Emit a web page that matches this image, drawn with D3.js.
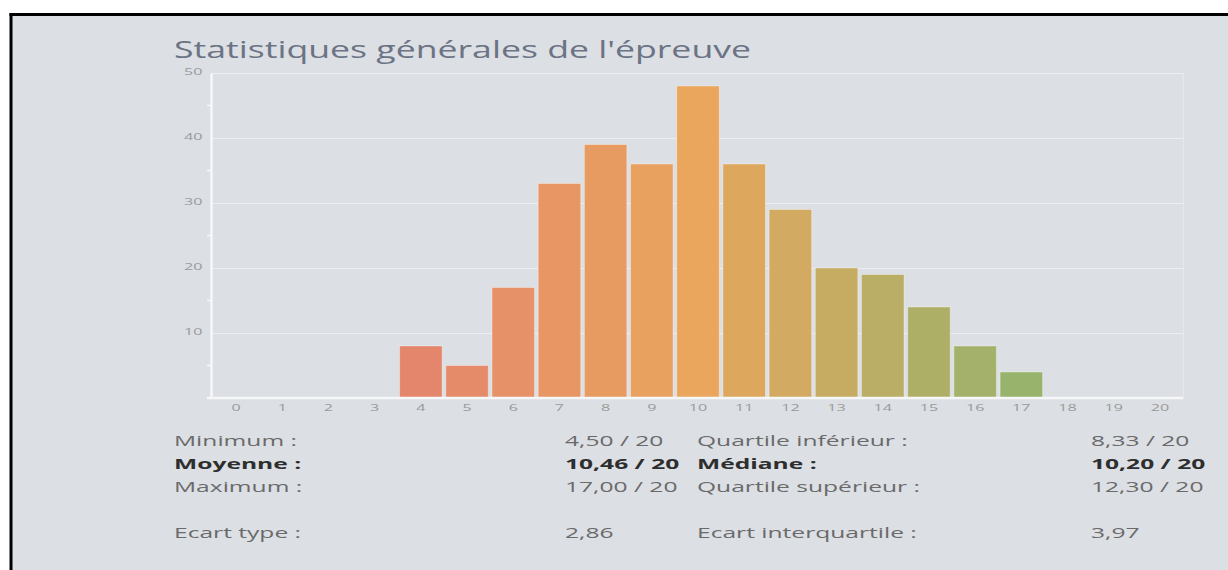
<!DOCTYPE html>
<html><head><meta charset="utf-8">
<script src="https://cdn.jsdelivr.net/npm/d3@7"></script>
<style>body{margin:0;background:#fff;}svg{display:block;}</style>
</head><body>
<svg id="c" width="1228" height="570"></svg>
<script>
const title = "Statistiques générales de l'épreuve";
const categories = ["0","1","2","3","4","5","6","7","8","9","10","11","12","13","14","15","16","17","18","19","20"];
const counts = [0,0,0,0,8,5,17,33,39,36,48,36,29,20,19,14,8,4,0,0,0];
const yTicks = [10,20,30,40,50];
const yMinorTicks = [5,15,25,35,45];
const statLabelsLeft = ["Minimum :","Moyenne :","Maximum :","","Ecart type :"];
const statValuesLeft = ["4,50 / 20","10,46 / 20","17,00 / 20","","2,86"];
const statLabelsRight = ["Quartile inférieur :","Médiane :","Quartile supérieur :","","Ecart interquartile :"];
const statValuesRight = ["8,33 / 20","10,20 / 20","12,30 / 20","","3,97"];
const boldRows = [1];

const svg = d3.select("#c");
const W = 1228, H = 570;
const SX_TITLE = 1.55, SX_TEXT = 1.64, SX_TICK = 1.7;
// frame
svg.append("rect").attr("x",11).attr("y",14).attr("width",W).attr("height",H).attr("fill","#dcdfe4");
svg.append("line").attr("x1",9.5).attr("x2",W).attr("y1",14.5).attr("y2",14.5).attr("stroke","#000").attr("stroke-width",3);
svg.append("line").attr("x1",11).attr("x2",11).attr("y1",13).attr("y2",H).attr("stroke","#000").attr("stroke-width",3);

svg.append("text").attr("transform",`translate(174,58) scale(${SX_TITLE},1)`)
  .attr("font-family","Open Sans").attr("font-size",23)
  .attr("fill","#6b7384").text(title);

const x = d3.scaleBand().domain(categories).range([213,1183]).paddingInner(0.08).paddingOuter(0.04);
const y = d3.scaleLinear().domain([0,50]).range([398,73]);
const color = d3.scaleLinear().domain([4,10,17]).range(["#e4866c","#e9a65c","#97b36c"]);

const g = svg.append("g");
// grid
g.selectAll("line.grid").data(yTicks).join("line").attr("class","grid")
  .attr("x1",211).attr("x2",1183).attr("y1",d=>y(d)+0.5).attr("y2",d=>y(d)+0.5)
  .attr("stroke","#eceef1").attr("stroke-width",1.2);
g.append("line").attr("x1",1183.5).attr("x2",1183.5).attr("y1",y(50)).attr("y2",y(0))
  .attr("stroke","#e6e8eb").attr("stroke-width",1.2);

// bars
g.selectAll("rect.bar").data(counts.map((v,i)=>({c:categories[i],v,i}))).join("rect").attr("class","bar")
  .attr("x",d=>x(d.c)).attr("width",x.bandwidth())
  .attr("y",d=>y(d.v)).attr("height",d=>y(0)-y(d.v))
  .attr("fill",d=>color(d.i))
  .attr("stroke","rgba(255,255,255,0.35)").attr("stroke-width",1)
  .style("display",d=>d.v>0?null:"none");

// y axis
const ya = d3.axisLeft(y).tickValues(yTicks).tickSize(0).tickPadding(5);
const yg = g.append("g").attr("transform","translate(211,0)").call(ya);
yg.select(".domain").attr("stroke","#f6f7f8").attr("stroke-width",2.5);
yg.selectAll("text").attr("font-family","Open Sans").attr("font-size",9.5).attr("fill","#9a9a9a")
  .attr("dy","0.2em").attr("transform",`scale(${SX_TICK},1)`);
yg.selectAll("line.minor").data(yMinorTicks).join("line").attr("class","minor")
  .attr("x1",-4).attr("x2",0).attr("y1",d=>y(d)).attr("y2",d=>y(d)).attr("stroke","#f6f7f8").attr("stroke-width",1.5);

// x axis
const xa = d3.axisBottom(x).tickSize(0).tickPadding(6);
const xg = g.append("g").attr("transform","translate(0,398)").call(xa);
xg.select(".domain").attr("stroke","#f6f7f8").attr("stroke-width",2.5).attr("d","M207,0H1183");
xg.selectAll("text").attr("font-family","Open Sans").attr("font-size",9.5).attr("fill","#9a9a9a")
  .attr("transform",`scale(${SX_TICK},1)`);

// stats
const rowY = d3.scalePoint().domain(d3.range(5)).range([446,538]);
const cols = [
  {data:statLabelsLeft, x:174},
  {data:statValuesLeft, x:565},
  {data:statLabelsRight, x:697},
  {data:statValuesRight, x:1091}
];
cols.forEach(col=>{
  svg.selectAll(null).data(col.data.map((t,i)=>({t,i}))).join("text")
    .attr("transform",d=>`translate(${col.x},${rowY(d.i)}) scale(${SX_TEXT},1)`)
    .attr("font-family","Open Sans").attr("font-size",15)
    .attr("font-weight",d=>boldRows.includes(d.i)?700:400)
    .attr("fill",d=>boldRows.includes(d.i)?"#2e2e2e":"#6a6a6a")
    .text(d=>d.t);
});
</script>
</body></html>
